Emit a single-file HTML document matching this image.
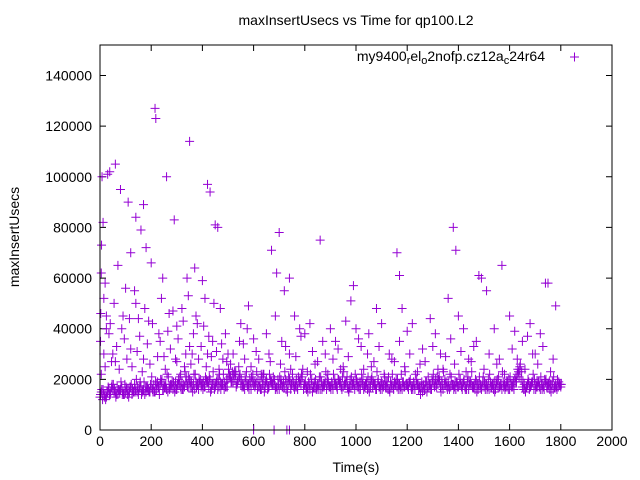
<!DOCTYPE html>
<html><head><meta charset="utf-8"><style>
body{margin:0;background:#fff}
svg{display:block;font-family:"Liberation Sans",sans-serif}
</style></head><body>
<svg id="chart" width="640" height="480" viewBox="0 0 640 480">
<rect width="640" height="480" fill="#fff"/>
<text x="356" y="25" font-size="14" text-anchor="middle">maxInsertUsecs vs Time for qp100.L2</text>
<text transform="translate(19,237) rotate(-90)" font-size="14" text-anchor="middle">maxInsertUsecs</text>
<text x="356" y="472" font-size="14" text-anchor="middle">Time(s)</text>
<g id="ticks"></g>
<g id="marks"></g>
<rect x="100" y="45" width="512" height="385" fill="none" stroke="#000" stroke-width="1"/>
<g>
<text x="545" y="61" font-size="14" text-anchor="end">my9400<tspan dy="3" font-size="11">r</tspan><tspan dy="-3">el</tspan><tspan dy="3" font-size="11">o</tspan><tspan dy="-3">2nofp.cz12a</tspan><tspan dy="3" font-size="11">c</tspan><tspan dy="-3">24r64</tspan></text>
<path d="M570,57h9M574.5,52.5v9" stroke="#9400d3" stroke-width="1"/>
</g>
</svg>
<script>
const xTicks=[0,200,400,600,800,1000,1200,1400,1600,1800,2000];
const yTicks=[0,20000,40000,60000,80000,100000,120000,140000];
const band1=[13,12,14,15,14,16,15,14,16,15,15,16,17,15,16,14,17,16,15,16,17,18,16,17,19,18,16,17,18,17,16,18,19,17,18,20,17,16,18,19,18,17,19,20,18,17,16,19,18,17,20,21,19,22,20,18,17,19,18,16,18,19,17,16,18,20,17,19,18,17,16,18,17,19,20,18,16,17,19,21,18,17,16,15,17,18,16,17,19,18,17,16,18,20,19,17,18,16,17,19,18,17,19,16,18,17,20,18,16,17,19,18,17,16,18,19,17,18,16,17,18,19,17,16,18,17,15,16,17,18,19,20,18,17,16,18,19,17,18,16,17,18,19,17,16,18,17,19,18,16,17,18,16,17,19,18,17,16,18,17,16,18,20,22,24,17,16,18,17,19,18,17,16,18,19,17,18,16,18,17,17];
const band2=[15,14,13,16,17,15,14,16,17,14,16,15,14,18,15,17,16,14,17,15,16,15,19,18,16,17,15,18,16,19,18,17,16,19,21,17,18,19,16,17,19,20,17,16,18,19,17,18,16,20,22,19,23,18,21,17,16,18,20,19,17,16,19,18,17,16,19,18,16,20,18,17,20,18,16,19,17,21,18,16,17,19,18,17,16,18,19,17,16,17,19,18,17,19,16,18,21,17,18,16,17,19,18,17,16,19,17,18,19,16,18,17,16,19,17,18,16,17,19,18,16,17,19,18,16,17,18,19,17,16,18,17,21,19,18,17,16,18,17,19,18,16,17,19,18,17,16,18,17,19,16,17,19,18,16,17,18,19,17,16,18,19,21,23,20,16,17,19,18,16,17,19,18,16,17,19,18,17,16,18];
const band3=[14,16,12,17,15,18,13,16,19,14,17,13,18,15,20,16,14,19,17,15,21,15,18,14,20,17,22,16,19,15,18,21,16,23,17,19,15,22,18,20,16,21,19,15,23,18,20,16,22,17,24,19,22,17,25,20,18,23,16,21,19,23,17,21,15,19,22,18,20,16,21,17,23,15,19,22,18,16,20,24,19,15,22,17,20,16,21,18,23,19,16,22,18,20,17,23,19,15,21,18,20,16,22,17,19,15,21,18,23,17,16,21,19,15,22,18,20,16,19,23,17,20,16,22,18,14,17,19,21,16,22,18,20,15,23,19,17,21,16,19,22,17,20,16,19,23,18,15,21,17,19,16,22,18,15,20,17,23,16,19,21,17,19,24,26,19,15,20,17,22,16,19,21,17,20,18,15,21,17,19,18];
const band4=[16,13,15,14,18,16,17,15,14,18,14,17,16,15,17,19,15,17,16,18,15,19,17,20,16,18,21,17,19,16,20,16,18,21,17,19,22,17,20,18,17,19,21,18,16,20,22,18,19,17,21,23,20,19,22,18,21,17,19,22,18,20,16,22,19,17,20,21,17,18,20,19,16,21,18,17,20,19,22,18,16,18,20,19,17,21,16,18,20,17,18,20,16,18,21,19,17,20,18,22,19,16,20,18,21,17,19,16,20,18,17,19,21,17,16,20,18,22,17,18,19,16,18,20,17,19,16,15,18,20,17,21,19,18,20,16,22,18,19,17,20,18,16,21,19,17,20,16,18,21,18,20,17,16,19,21,18,17,19,20,17,16,19,21,23,18,17,16,19,20,19,17,16,20,18,16,19,17,20,18];
const midT=[5,15,25,35,45,55,65,75,85,95,105,115,125,135,145,155,165,175,185,195,205,225,235,245,255,265,275,285,295,305,315,325,335,345,355,365,375,385,395,405,415,425,435,445,455,465,475,495,510,530,545,565,575,590,610,630,650,665,685,705,725,745,765,785,810,830,850,870,890,910,930,950,970,1010,1030,1045,1070,1090,1110,1140,1170,1190,1210,1240,1270,1300,1320,1350,1370,1385,1410,1430,1450,1470,1500,1520,1550,1580,1610,1630,1660,1670,1690,1710,1730,1760,1770];
const midV=[22,30,45,38,27,50,33,24,40,36,28,44,25,55,31,37,23,48,34,26,42,29,35,60,24,39,32,47,28,36,22,43,30,53,26,38,45,28,33,41,25,37,29,50,31,24,34,27,26,23,35,28,40,25,31,22,38,27,45,26,33,24,29,37,23,31,27,35,22,28,32,25,29,36,24,30,27,33,22,28,35,25,30,23,27,33,24,29,36,26,31,23,27,35,24,30,26,22,32,28,24,37,30,26,33,23,28];
const outT=[8,12,6,5,3,2,15,20,30,38,60,80,110,140,160,170,215,218,260,290,350,370,420,430,450,460,180,200,120,70,100,140,90,40,25,50,150,190,240,270,230,300,320,340,360,380,400,410,440,470,480,490,500,20,60,120,170,250,300,330,350,420,520,550,560,580,600,620,640,660,670,690,700,720,740,760,780,800,820,860,880,900,920,960,980,990,1000,1020,1050,1080,1100,1130,1160,1170,1180,1200,1220,1260,1290,1310,1330,1360,1380,1390,1400,1420,1480,1490,1510,1540,1570,1600,1620,1650,1680,1720,1740,1750,1780,1700,1640,1560,1460,1440,1340,1250,1150,1060,940,840,740,710,600,680,730,740];
const outV=[100,82,73,62,46,35,52,58,101,102,105,95,90,84,79,89,127,123,100,83,114,64,97,94,81,80,72,66,70,65,56,50,45,42,40,30,44,43,52,46,38,41,48,60,30,42,59,52,35,48,28,38,30,25,27,32,28,29,27,25,33,30,30,42,34,49,36,28,22,30,71,62,78,55,60,45,40,38,42,75,30,40,35,43,51,57,40,33,38,48,42,30,70,61,48,39,42,32,44,38,30,52,80,71,45,40,61,60,55,40,65,45,39,35,42,38,58,58,49,30,25,28,33,28,24,26,27,25,24,26,30,35,0,0,0,0];
const X0=100,X1=612,Y0=430,Y140=75.5;
function sx(t){return X0+(X1-X0)*t/2000;}
function sy(v){return Y0-(Y0-Y140)*v/140000;}
const NS="http://www.w3.org/2000/svg";
const tg=document.getElementById('ticks');
xTicks.forEach(t=>{
 const p=document.createElementNS(NS,'path');
 p.setAttribute('d',`M${sx(t)},430v-6M${sx(t)},45v6`);p.setAttribute('stroke','#000');
 
 
 tg.appendChild(p);
 const tx=document.createElementNS(NS,'text');
 tx.setAttribute('x',sx(t));tx.setAttribute('y',446);tx.setAttribute('font-size','14');tx.setAttribute('text-anchor','middle');
 tx.textContent=t;
 
 
 tg.appendChild(tx);
});
yTicks.forEach(v=>{
 const p=document.createElementNS(NS,'path');
 p.setAttribute('d',`M100,${sy(v)}h6M612,${sy(v)}h-6`);p.setAttribute('stroke','#000');
 
 
 tg.appendChild(p);
 const tx=document.createElementNS(NS,'text');
 tx.setAttribute('x',92);tx.setAttribute('y',sy(v)+5);tx.setAttribute('font-size','14');tx.setAttribute('text-anchor','end');
 tx.textContent=v;
 
 
 tg.appendChild(tx);
});
const mg=document.getElementById('marks');
function cross(t,k){
 if(k===undefined||t===undefined)return;
 const x=sx(t),y=sy(k*1000);
 const p=document.createElementNS(NS,'path');
 p.setAttribute('d',`M${x-4.5},${y}h9M${x},${y-4.5}v9`);
 p.setAttribute('stroke','#9400d3');
 
 
 mg.appendChild(p);
}
band1.forEach((k,i)=>cross(i*10,k));
band2.forEach((k,i)=>cross(i*10+5,k));
band3.forEach((k,i)=>cross(i*10+2,k));
band4.forEach((k,i)=>cross(i*10+7,k));
midT.forEach((t,i)=>cross(t,midV[i]));
outT.forEach((t,i)=>cross(t,outV[i]));
</script>
</body></html>
